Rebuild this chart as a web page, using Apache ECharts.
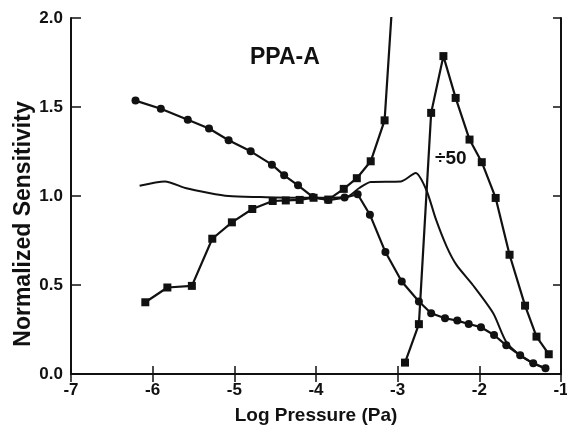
<!DOCTYPE html>
<html>
<head>
<meta charset="utf-8">
<script src="https://cdn.jsdelivr.net/npm/echarts@6/dist/echarts.min.js"></script>
<style>html,body{margin:0;padding:0;background:#fff;}#c{width:567px;height:425px;}</style>
</head>
<body>
<div id="c"></div>
<script>
// Circles series (decreasing then dropping)
var circX = [-6.21,-5.90,-5.57,-5.31,-5.07,-4.80,-4.54,-4.39,-4.22,-4.04,-3.85,-3.65,-3.49,-3.34,-3.15,-2.95,-2.74,-2.59,-2.42,-2.27,-2.13,-1.98,-1.82,-1.67,-1.50,-1.34,-1.19];
var circY = [1.536,1.49,1.428,1.379,1.313,1.251,1.176,1.116,1.06,0.995,0.977,0.991,1.01,0.895,0.685,0.52,0.407,0.341,0.313,0.30,0.281,0.263,0.219,0.161,0.105,0.06,0.032];
// Squares series (rising then going off scale)
var sqX = [-6.09,-5.82,-5.52,-5.27,-5.03,-4.78,-4.53,-4.37,-4.20,-4.03,-3.85,-3.66,-3.50,-3.33,-3.16];
var sqY = [0.403,0.486,0.495,0.76,0.852,0.927,0.972,0.975,0.978,0.99,0.98,1.04,1.10,1.195,1.425];
var sqOffX = -3.05, sqOffY = 2.2; // continues above the top of the plot
// "÷50" squares series
var divX = [-2.91,-2.74,-2.59,-2.44,-2.29,-2.12,-1.97,-1.80,-1.63,-1.44,-1.30,-1.15];
var divY = [0.064,0.28,1.467,1.786,1.551,1.317,1.19,0.989,0.67,0.384,0.21,0.111];
// Plain line
var plainX = [-6.16,-5.85,-5.60,-5.31,-5.07,-4.70,-4.30,-3.90,-3.61,-3.47,-3.33,-2.96,-2.78,-2.65,-2.53,-2.40,-2.28,-2.08,-1.83,-1.67,-1.50,-1.34,-1.19];
var plainY = [1.058,1.082,1.045,1.017,1.0,0.994,0.99,0.99,0.998,1.045,1.079,1.082,1.129,1.035,0.867,0.716,0.613,0.50,0.341,0.18,0.105,0.06,0.032];
var xTicks = [-7,-6,-5,-4,-3,-2,-1];
var yTicks = [0,0.5,1.0,1.5,2.0];
var yTitle = 'Normalized Sensitivity';

function pairs(xs, ys){ return xs.map(function(x,i){ return [x, ys[i]]; }); }
var sqData = pairs(sqX, sqY);
sqData.push({value:[sqOffX, sqOffY], symbol:'none'});

var FONT = 'Liberation Sans, Arial, sans-serif';
var ink = '#111';
var chart = echarts.init(document.getElementById('c'));
chart.setOption({
  animation:false,
  backgroundColor:'#fff',
  grid:{left:71, right:6, top:18, bottom:51, containLabel:false, outerBoundsMode:'none'},
  xAxis:[{
    type:'value', min:xTicks[0], max:xTicks[xTicks.length-1], interval:1,
    name:'Log Pressure (Pa)', nameLocation:'middle', nameGap:32,
    nameTextStyle:{fontFamily:FONT, fontWeight:'bold', fontSize:19, color:ink},
    axisLine:{lineStyle:{color:ink, width:2}},
    axisTick:{inside:true, length:8, lineStyle:{color:ink, width:1.5}},
    axisLabel:{fontFamily:FONT, fontWeight:'bold', fontSize:17, color:ink, margin:8},
    splitLine:{show:false}
  },{
    type:'value', position:'top', min:xTicks[0], max:xTicks[xTicks.length-1], interval:1,
    axisLine:{lineStyle:{color:ink, width:2}},
    axisTick:{inside:true, length:8, lineStyle:{color:ink, width:1.5}},
    axisLabel:{show:false}, splitLine:{show:false}
  }],
  yAxis:[{
    type:'value', min:0, max:2, interval:0.5,
    axisLine:{lineStyle:{color:ink, width:2}},
    axisTick:{inside:true, length:10, lineStyle:{color:ink, width:1.5}},
    axisLabel:{fontFamily:FONT, fontWeight:'bold', fontSize:17, color:ink, margin:8,
      formatter:function(v){ return v.toFixed(1); }},
    splitLine:{show:false}
  },{
    type:'value', position:'right', min:0, max:2, interval:0.5,
    axisLine:{lineStyle:{color:ink, width:2}},
    axisTick:{inside:true, length:8, lineStyle:{color:ink, width:1.5}},
    axisLabel:{show:false}, splitLine:{show:false}
  }],
  graphic:[
    {type:'text', x:24, y:224, rotation:Math.PI/2,
      style:{text:yTitle, font:'bold 23px Liberation Sans, Arial, sans-serif', fill:ink, align:'center', verticalAlign:'middle'}},
    {type:'text', left:250, top:46, style:{text:'PPA-A', font:'bold 23px Liberation Sans, Arial, sans-serif', fill:ink}},
    {type:'text', left:435, top:149, style:{text:'÷50', font:'bold 19px Liberation Sans, Arial, sans-serif', fill:ink}}
  ],
  series:[
    {type:'line', data:pairs(circX, circY), symbol:'circle', symbolSize:8,
      lineStyle:{color:ink, width:2.2}, itemStyle:{color:ink}, z:3},
    {type:'line', data:sqData, symbol:'rect', symbolSize:8, clip:true,
      lineStyle:{color:ink, width:2.2}, itemStyle:{color:ink}, z:3},
    {type:'line', data:pairs(divX, divY), symbol:'rect', symbolSize:8,
      lineStyle:{color:ink, width:2.2}, itemStyle:{color:ink}, z:3},
    {type:'line', data:pairs(plainX, plainY), symbol:'none', smooth:0.25,
      lineStyle:{color:ink, width:2}, z:2}
  ]
});
</script>
</body>
</html>
